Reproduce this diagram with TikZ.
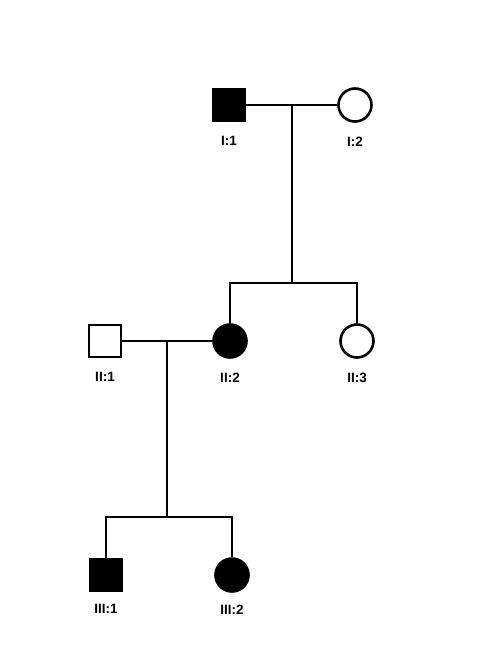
\documentclass[tikz,border=0pt]{standalone}
\usepackage{fontspec}
\setmainfont{Liberation Sans}
\usetikzlibrary{positioning}

\begin{document}
\begin{tikzpicture}[
		x=1pt, y=-1pt,
		male/.style={draw, rectangle, line width=2.6pt, minimum size=32pt, inner sep=0pt},
		female/.style={draw, circle, line width=2.6pt, minimum size=33pt, inner sep=0pt},
		affected/.style={fill=black},
		idlabel/.style={font=\bfseries\fontsize{13.5}{13.5}\selectfont, inner sep=0pt},
		pline/.style={line width=2pt},
	]
	\useasboundingbox (0,0) rectangle (484,672);

	% generation I
	\node[male, affected] (I1) at (229,105) {};
	\node[female] (I2) at (355,105) {};
	\node[idlabel, below=14pt of I1] (I1l) {I:1};
	\node[idlabel, below=14pt of I2] (I2l) {I:2};

	% generation II
	\node[male] (II1) at (105,341) {};
	\node[female, affected] (II2) at (230,341) {};
	\node[female] (II3) at (357,341) {};
	\node[idlabel, below=14pt of II1] (II1l) {II:1};
	\node[idlabel, below=14pt of II2] (II2l) {II:2};
	\node[idlabel, below=14pt of II3] (II3l) {II:3};

	% generation III
	\node[male, affected] (III1) at (106,575) {};
	\node[female, affected] (III2) at (232,575) {};
	\node[idlabel, below=12pt of III1] (III1l) {III:1};
	\node[idlabel, below=12pt of III2] (III2l) {III:2};

	\coordinate (m1) at (292,105);
	\coordinate (s1) at (292,283);
	\coordinate (m2) at (167,341);
	\coordinate (s2) at (167,517);

	\draw[pline] (I1) -- (I2);
	\draw[pline] (m1) -- (s1);
	\draw[pline] (II2) -- (II2 |- s1) -- (II3 |- s1) -- (II3);

	\draw[pline] (II1) -- (II2);
	\draw[pline] (m2) -- (s2);
	\draw[pline] (III1) -- (III1 |- s2) -- (III2 |- s2) -- (III2);
\end{tikzpicture}
\end{document}
